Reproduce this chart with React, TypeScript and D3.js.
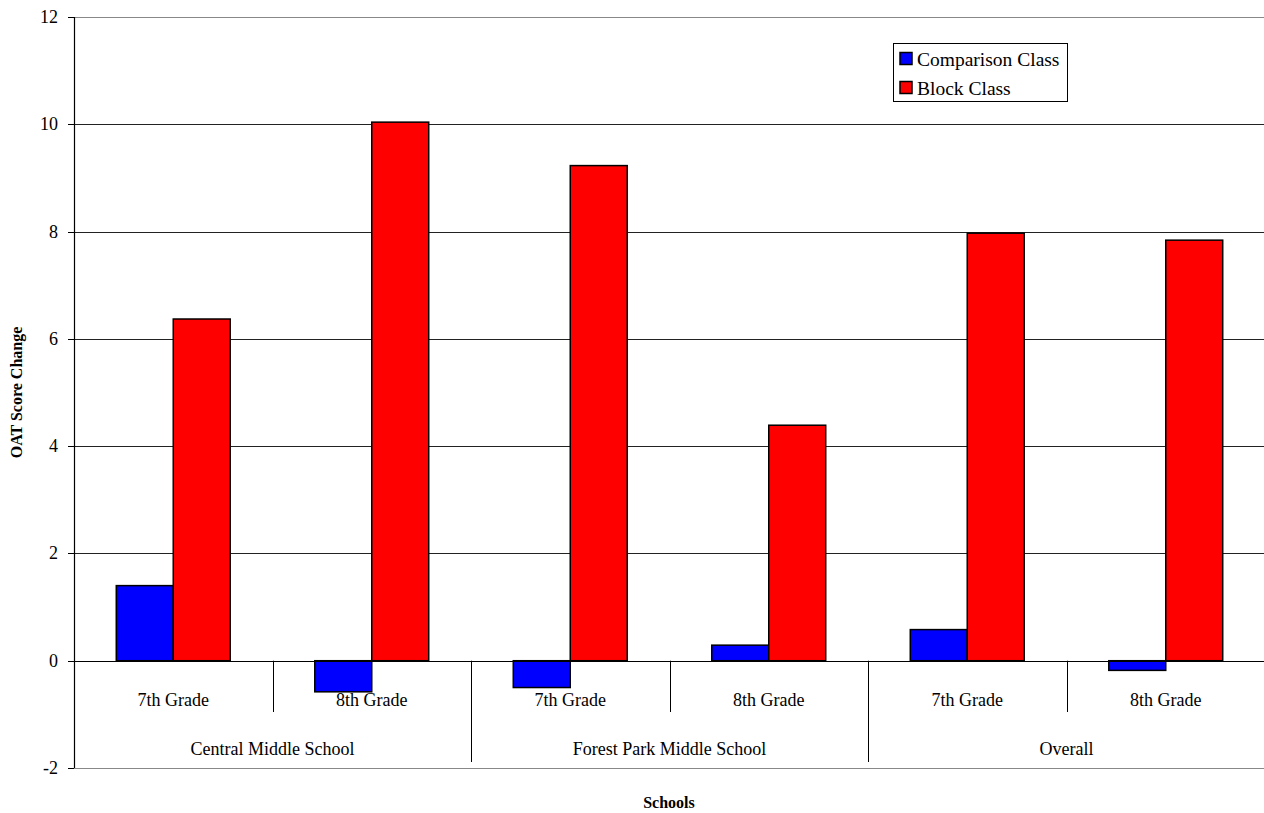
import React from "react";
import * as d3 from "d3";

const schools = ["Central Middle School", "Forest Park Middle School", "Overall"];
const grades = ["7th Grade", "8th Grade"];
const seriesNames = ["Comparison Class", "Block Class"];
const seriesColors = ["#0000FF", "#FF0000"];
const comparisonValues = [1.4, -0.58, -0.5, 0.29, 0.58, -0.18];
const blockValues = [6.37, 10.04, 9.23, 4.39, 7.97, 7.84];
const yTicks = [-2, 0, 2, 4, 6, 8, 10, 12];

const W = 1264;
const H = 813;
const FONT = "Times New Roman, Liberation Serif, Times, serif";

export default function App() {
  const left = 74;
  const right = 1265;
  const top = 17;
  const bottom = 768;

  const categories: { school: string; grade: string; key: string }[] = [];
  schools.forEach((s) => grades.forEach((g) => categories.push({ school: s, grade: g, key: s + "|" + g })));
  const series = [comparisonValues, blockValues];

  const x0 = d3.scaleBand<string>().domain(categories.map((c) => c.key)).range([left, right]).padding(0);
  const x1 = d3
    .scaleBand<string>()
    .domain(seriesNames)
    .range([0, x0.bandwidth()])
    .paddingInner(0)
    .paddingOuter(0.742);
  const y = d3.scaleLinear().domain([-2, 12]).range([bottom, top]);
  const y0 = y(0);

  const schoolScale = d3.scaleBand<string>().domain(schools).range([left, right]).padding(0);

  return (
    <div style={{ position: "absolute", left: 0, top: 0 }}>
      <svg width={W} height={H} style={{ display: "block", background: "#fff" }}>
        {yTicks.map((t) => (
          <line
            key={"g" + t}
            x1={left}
            x2={right}
            y1={Math.round(y(t)) + 0.5}
            y2={Math.round(y(t)) + 0.5}
            stroke={t === 12 || t === -2 ? "#888" : "#222"}
            strokeWidth={1}
          />
        ))}
        {series.map((vals, si) =>
          categories.map((c, ci) => {
            const v = vals[ci];
            const xx = (x0(c.key) as number) + (x1(seriesNames[si]) as number);
            const yTop = Math.min(y(v), y0);
            const h = Math.abs(y(v) - y0);
            return (
              <rect
                key={si + "-" + ci}
                x={xx}
                y={yTop}
                width={x1.bandwidth()}
                height={h}
                fill={seriesColors[si]}
                stroke="#000"
                strokeWidth={1.5}
              />
            );
          })
        )}
        <line x1={left} x2={right} y1={Math.round(y0) + 0.5} y2={Math.round(y0) + 0.5} stroke="#000" strokeWidth={1} />
        <line x1={left + 0.5} x2={left + 0.5} y1={top} y2={bottom} stroke="#000" strokeWidth={1.2} />
        {yTicks.map((t) => (
          <g key={"t" + t}>
            <line x1={left - 6} x2={left} y1={Math.round(y(t)) + 0.5} y2={Math.round(y(t)) + 0.5} stroke="#000" />
            <text x={58} y={y(t)} dy="0.33em" textAnchor="end" fontFamily={FONT} fontSize={18}>
              {t}
            </text>
          </g>
        ))}
        {categories.map((c, ci) => {
          if (ci === 0) return null;
          const xx = Math.round(x0(c.key) as number) + 0.5;
          const isSchool = ci % 2 === 0;
          return (
            <line key={"d" + ci} x1={xx} x2={xx} y1={y0} y2={isSchool ? 762 : 712} stroke="#000" strokeWidth={1} />
          );
        })}
        {categories.map((c) => (
          <text
            key={"l" + c.key}
            x={(x0(c.key) as number) + x0.bandwidth() / 2}
            y={706}
            textAnchor="middle"
            fontFamily={FONT}
            fontSize={18}
          >
            {c.grade}
          </text>
        ))}
        {schools.map((s) => (
          <text
            key={"s" + s}
            x={(schoolScale(s) as number) + schoolScale.bandwidth() / 2}
            y={755}
            textAnchor="middle"
            fontFamily={FONT}
            fontSize={18}
          >
            {s}
          </text>
        ))}
        <text
          transform={`translate(22, ${(top + bottom) / 2}) rotate(-90)`}
          textAnchor="middle"
          fontFamily={FONT}
          fontSize={16}
          fontWeight="bold"
        >
          OAT Score Change
        </text>
        <text x={669} y={808} textAnchor="middle" fontFamily={FONT} fontSize={16} fontWeight="bold">
          Schools
        </text>
        <rect x={893.5} y={43.5} width={174} height={58} fill="#fff" stroke="#000" strokeWidth={1} />
        {seriesNames.map((n, i) => (
          <g key={"lg" + n}>
            <rect x={900} y={52.5 + i * 29} width={12} height={12} fill={seriesColors[i]} stroke="#000" strokeWidth={1.5} />
            <text x={917} y={65.5 + i * 29} fontFamily={FONT} fontSize={19.5}>
              {n}
            </text>
          </g>
        ))}
      </svg>
    </div>
  );
}
